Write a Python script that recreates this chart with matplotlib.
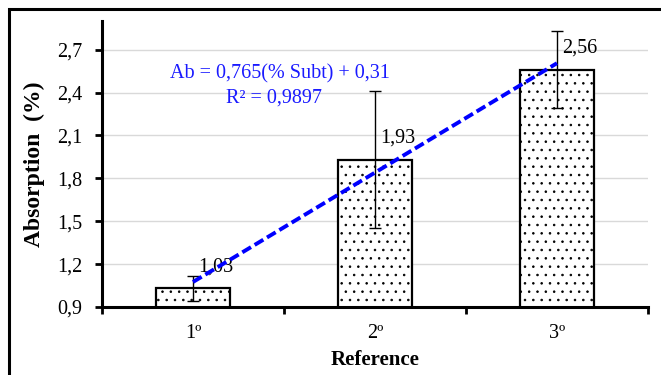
import numpy as np
import matplotlib
matplotlib.use("Agg")
import matplotlib.pyplot as plt
from matplotlib.patches import Rectangle

plt.rcParams['font.family'] = ['Liberation Serif', 'DejaVu Serif']
plt.rcParams['hatch.linewidth'] = 0.6

# data
refs = ['1º', '2º', '3º']
absorption = [1.03, 1.93, 2.56]
errors = [0.09, 0.48, 0.27]
labels = ['1,03', '1,93', '2,56']
slope, intercept, r2 = 0.765, 0.31, 0.9897
yticks = [0.9, 1.2, 1.5, 1.8, 2.1, 2.4, 2.7]

x = np.arange(1, len(refs) + 1)

fig = plt.figure(figsize=(6.61, 3.75), dpi=100)
ax = fig.add_axes([0.1543, 0.1813, 0.8260, 0.7627])

# outer frame
fig.patches.append(Rectangle((0.0143, -0.05), 1.2, 1.026, transform=fig.transFigure,
                             fill=False, edgecolor='black', linewidth=2.2, zorder=10))

ax.bar(x, absorption, width=0.41, color='white', edgecolor='black', linewidth=1.6,
       hatch='..', zorder=2)
ax.errorbar(x, absorption, yerr=errors, fmt='none', ecolor='black', elinewidth=1,
            capsize=4.5, capthick=1, zorder=3)

for xi, v, lab in zip(x, absorption, labels):
    ax.text(xi + 0.03, v + 0.15, lab, fontsize=14.5, ha='left', va='center', zorder=4)

# linear trend
xt = np.array([x[0], x[-1]])
ax.plot(xt, slope * xt + intercept, color='#0000ff', linestyle=(0, (2.6, 1.1)),
        linewidth=2.8, zorder=5)
ax.text(1.478, 2.53, 'Ab = 0,765(% Subt) + 0,31', color='#1a1aff', fontsize=14.5,
        ha='center', va='center')
ax.text(1.445, 2.36, f'R² = {r2}'.replace('.', ','), color='#1a1aff', fontsize=14.5,
        ha='center', va='center')

ax.set_xlim(0.5, 3.5)
ax.set_ylim(0.9, 2.9)
ax.set_yticks(yticks)
ax.set_yticklabels([f'{t:.1f}'.replace('.', ',') for t in yticks], fontsize=14.5)
ax.yaxis.grid(True, color='#d9d9d9', linewidth=1)
ax.set_axisbelow(True)

ax.set_xticks(x)
ax.set_xticklabels(refs, fontsize=14.5)
ax.tick_params(axis='x', which='major', length=0, pad=12)
ax.set_xticks([0.5, 1.5, 2.5, 3.5], minor=True)
ax.tick_params(axis='x', which='minor', length=5, width=2)
ax.tick_params(axis='y', length=5, width=2, pad=9)

for s in ['top', 'right']:
    ax.spines[s].set_visible(False)
for s in ['left', 'bottom']:
    ax.spines[s].set_linewidth(2.2)

ax.set_xlabel('Reference', fontsize=15, fontweight='bold', labelpad=5)
ax.set_ylabel('Absorption  (%)', fontsize=17, fontweight='bold', labelpad=9)

fig.savefig('out.png', dpi=100)
